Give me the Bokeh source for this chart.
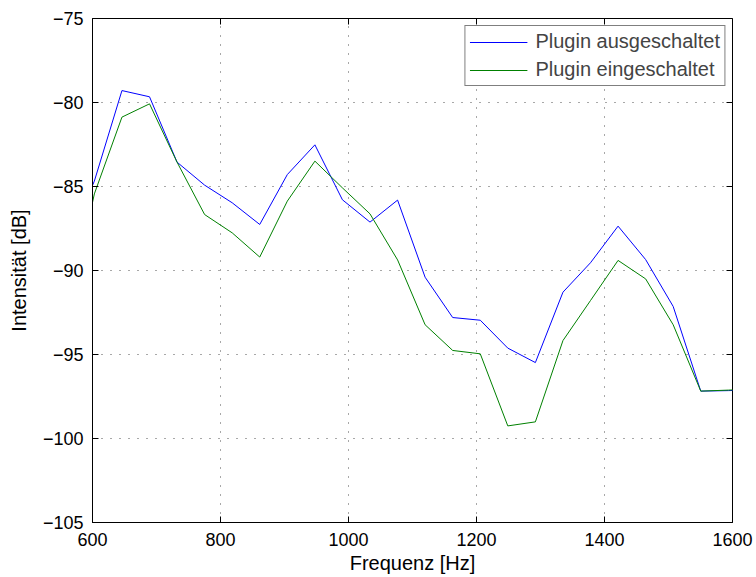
import math
from bokeh.plotting import figure
from bokeh.models import FixedTicker, Range1d, Legend, LegendItem
from bokeh.embed import file_html
from bokeh.resources import INLINE

# Frequency bins (Hz)
freq = [559.9, 602.9, 646.0, 689.1, 732.1, 775.2, 818.3, 861.3, 904.4, 947.5,
        990.5, 1033.6, 1076.7, 1119.7, 1162.8, 1205.9, 1248.9, 1292.0, 1335.1,
        1378.1, 1421.2, 1464.3, 1507.3, 1550.4, 1593.5, 1636.5]
# Intensity (dB), plugin off
aus = [-88.5, -84.68, -79.29, -79.66, -83.55, -84.92, -85.97, -87.26, -84.29, -82.52,
       -85.79, -87.12, -85.81, -90.4, -92.8, -92.96, -94.62, -95.48, -91.29,
       -89.54, -87.36, -89.35, -92.14, -97.18, -97.15, -97.1]
# Intensity (dB), plugin on
ein = [-93.0, -85.44, -80.87, -80.08, -83.55, -86.67, -87.76, -89.2, -85.87, -83.49,
       -85.08, -86.63, -89.37, -93.23, -94.76, -94.96, -99.25, -99.01, -94.17,
       -91.79, -89.40, -90.5, -93.23, -97.18, -97.12, -97.05]

x_ticks = [600, 800, 1000, 1200, 1400, 1600]
y_ticks = [-105, -100, -95, -90, -85, -80, -75]
labels = ["Plugin ausgeschaltet", "Plugin eingeschaltet"]

FONT = "Liberation Sans"
X0, X1 = 600, 1600
Y0, Y1 = -105, -75

p = figure(frame_width=640, frame_height=504,
           x_range=Range1d(X0, X1), y_range=Range1d(Y0, Y1),
           output_backend="svg", toolbar_location=None,
           min_border_left=92, min_border_right=24, min_border_top=18, min_border_bottom=55,
           x_axis_label="Frequenz [Hz]", y_axis_label="Intensität [dB]")
p.background_fill_color = "white"
p.border_fill_color = "white"
p.outline_line_color = "black"
p.outline_line_width = 1

for g, t in [(p.xgrid[0], x_ticks), (p.ygrid[0], y_ticks)]:
    g.ticker = FixedTicker(ticks=t)
    g.grid_line_color = "#505050"
    g.grid_line_dash = "1 8"
    g.grid_line_width = 1

r1 = p.line(freq, aus, line_color="#0000ff", line_width=1)
r2 = p.line(freq, ein, line_color="#008000", line_width=1)

# inward ticks on top and right edges (box style)
p.scatter(x_ticks, [Y1] * len(x_ticks), marker="dash", size=12, angle=math.pi / 2,
          line_color="black", line_width=1)
p.scatter([X1] * len(y_ticks), y_ticks, marker="dash", size=12,
          line_color="black", line_width=1)

y_over = {v: ("\u2212" + str(-v)) if v < 0 else str(v) for v in y_ticks}

for ax in [p.xaxis[0], p.yaxis[0]]:
    ax.major_tick_in = 6
    ax.major_tick_out = 0
    ax.minor_tick_line_color = None
    ax.axis_line_color = "black"
    ax.major_tick_line_color = "black"
    ax.major_label_text_font = FONT
    ax.major_label_text_font_size = "18px"
    ax.major_label_text_color = "black"
    ax.axis_label_text_font = FONT
    ax.axis_label_text_font_size = "20px"
    ax.axis_label_text_font_style = "normal"
    ax.axis_label_text_color = "black"

p.xaxis[0].ticker = FixedTicker(ticks=x_ticks)
p.yaxis[0].ticker = FixedTicker(ticks=y_ticks)
p.yaxis[0].major_label_overrides = y_over
p.xaxis[0].major_label_standoff = 10
p.xaxis[0].axis_label_standoff = 3
p.yaxis[0].major_label_standoff = 9
p.yaxis[0].axis_label_standoff = 10

legend = Legend(items=[LegendItem(label=labels[0], renderers=[r1]),
                       LegendItem(label=labels[1], renderers=[r2])],
                location="top_right", margin=7,
                border_line_color="black", border_line_width=1,
                label_text_font=FONT, label_text_font_size="20px",
                glyph_width=58, glyph_height=22, label_height=22,
                spacing=5, padding=4, label_standoff=8,
                background_fill_color="white", background_fill_alpha=1.0)
p.add_layout(legend)

open("out.html", "w").write(file_html(p, INLINE))
